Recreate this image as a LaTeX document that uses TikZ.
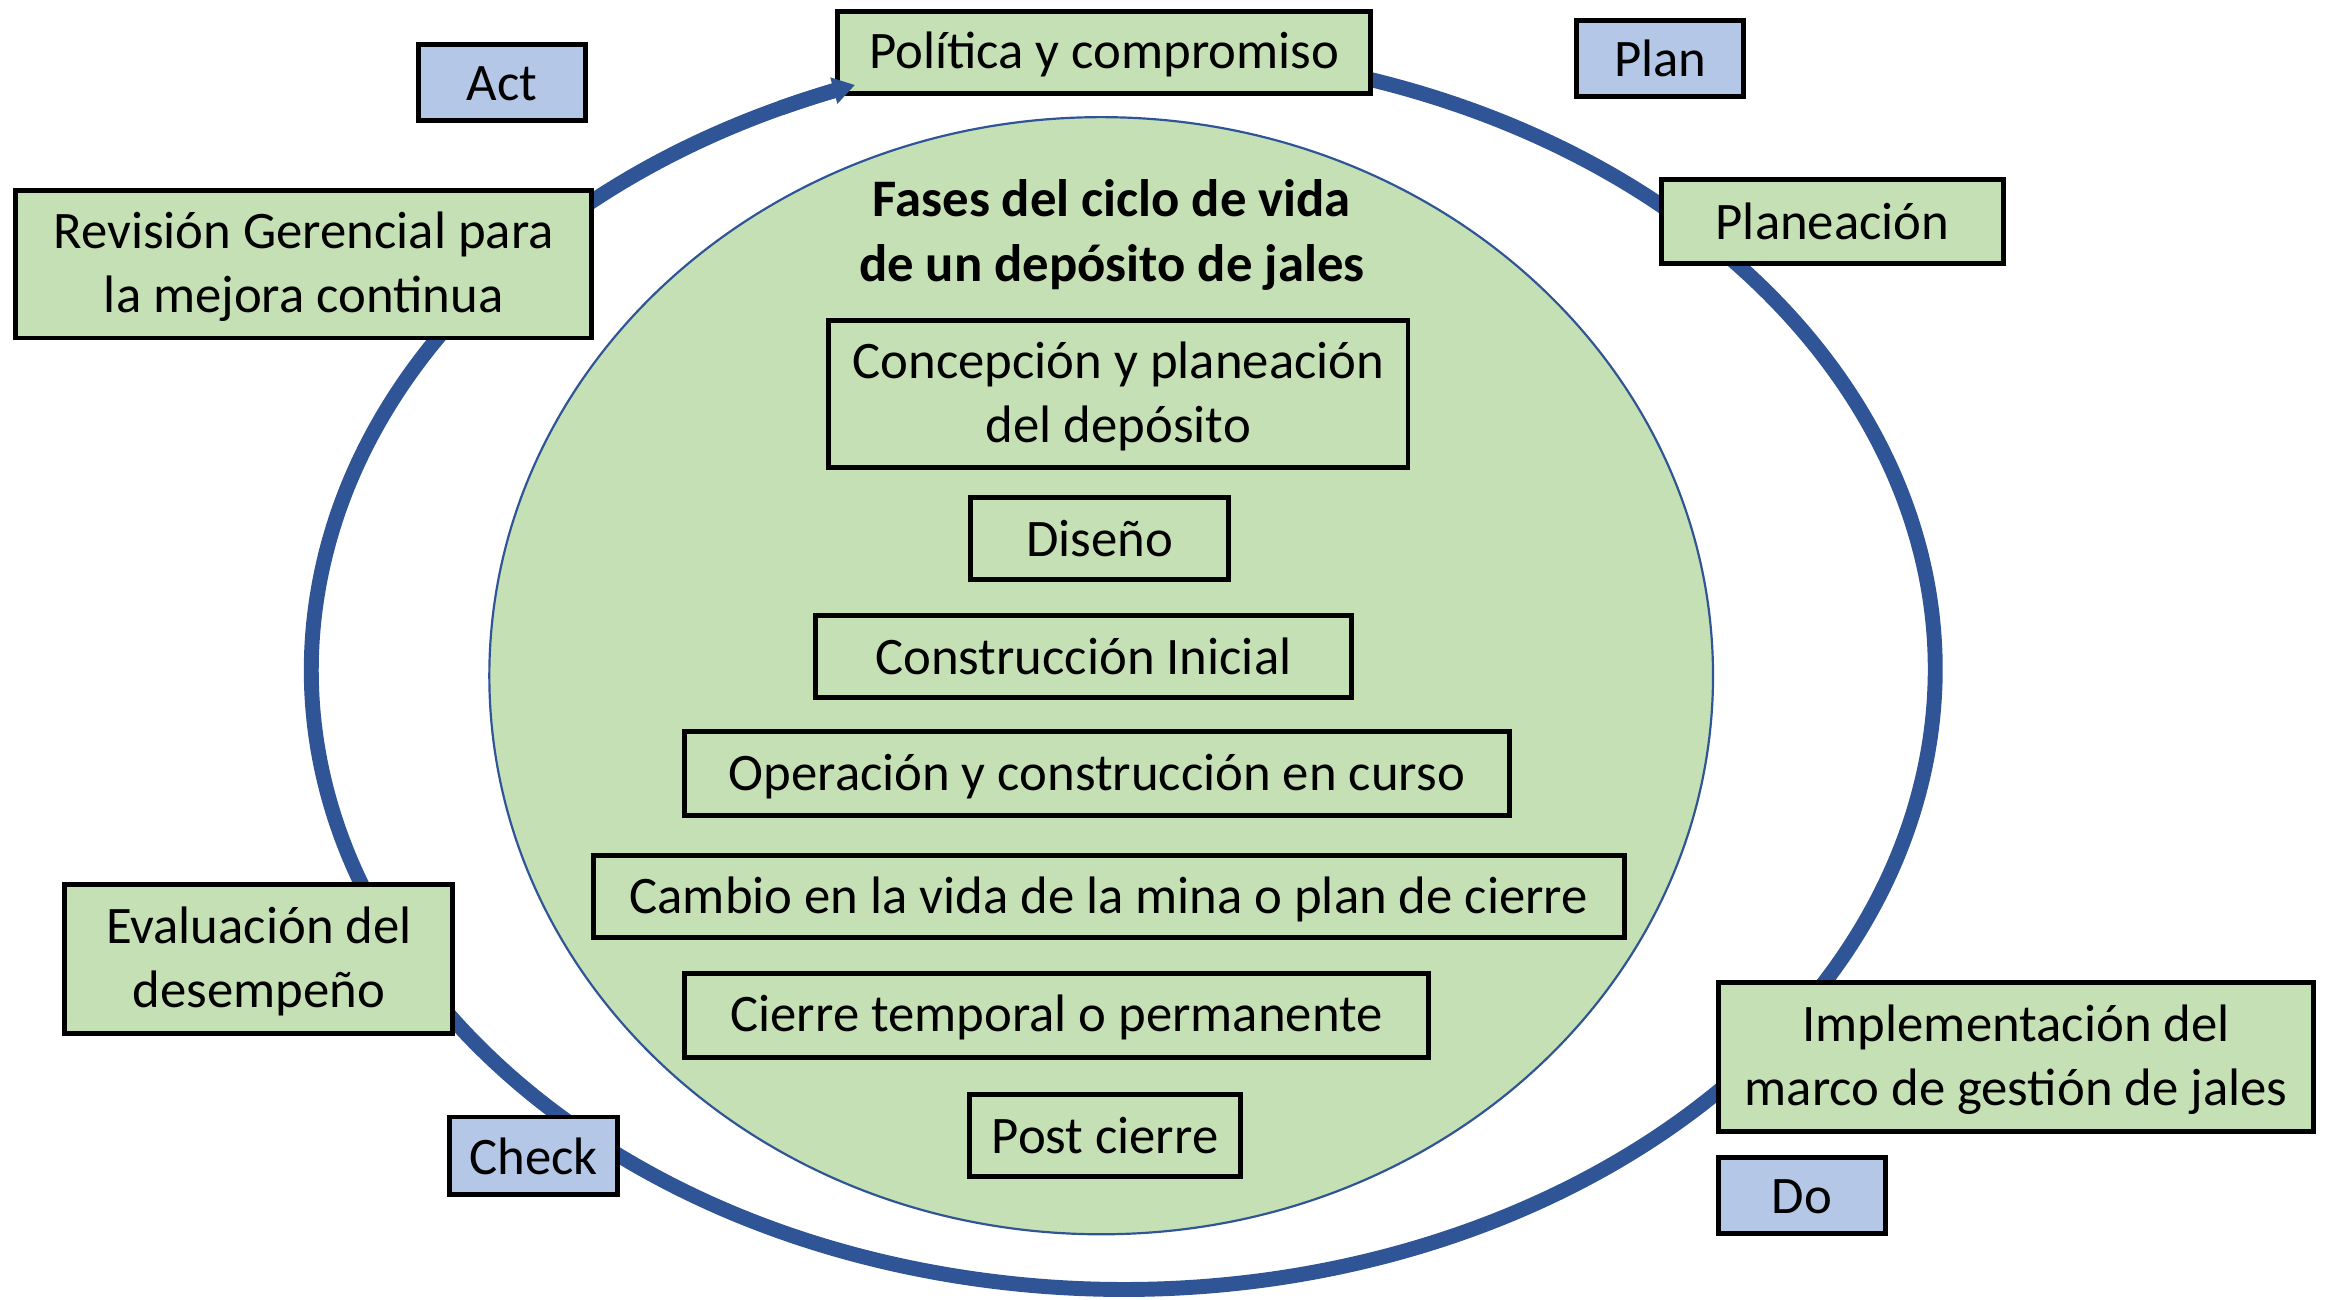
\documentclass[tikz,border=0pt]{standalone}
\usepackage{fontspec}
\setmainfont{Carlito}
\usetikzlibrary{calc,arrows.meta}
\definecolor{boxgreen}{HTML}{C5E0B4}
\definecolor{boxblue}{HTML}{B4C7E7}
\definecolor{ringblue}{HTML}{2F5597}
\newcommand\lnstrut{\rule[-2.5pt]{0pt}{23.3pt}}
\begin{document}
\begin{tikzpicture}[x=0.75pt,y=0.75pt,
  every node/.style={font=\fontsize{26.5pt}{32.25pt}\selectfont, align=center, inner sep=0pt},
  gbox/.style={draw=black, line width=2.5pt, fill=boxgreen},
  bbox/.style={draw=black, line width=2.5pt, fill=boxblue},
  sz/.style 2 args={minimum width=#1*0.75pt, minimum height=#2*0.75pt},
  ring/.style={draw=ringblue, line width=7.5pt},
  ringtip/.style={draw=ringblue, line width=7.5pt, -{Triangle[width=13pt,length=11pt]}},
  phase/.style={draw=ringblue, line width=1.1pt, fill=boxgreen}]
\useasboundingbox (0,0) rectangle (1560,-871.1);
% inner ellipse
\coordinate (inc) at (737.9,-452.8);
\draw[phase] (inc) ellipse[x radius=410, y radius=374.3];
% outer ring
\coordinate (ringc) at (752.7,-448.8);
\coordinate (ringstart) at ($(ringc)+(78:544 and 415.2)$);
\coordinate (ringlast) at ($(ringc)+(-245:544 and 415.2)$);
\draw[ring] (ringstart) arc[start angle=78, end angle=-250.7, x radius=544, y radius=415.2];
% title
\node[font=\fontsize{26.5pt}{32.25pt}\selectfont\bfseries] (title) at (745,-156) {Fases del ciclo de vida\lnstrut\\de un depósito de jales\lnstrut};
% outer boxes
\node[gbox, sz={357}{55}] (pol) at (740,-35) {Política y compromiso\lnstrut};
\node[bbox, sz={112}{51}] (act) at (336.5,-55) {Act\lnstrut};
\node[bbox, sz={112}{51}] (plan) at (1112.5,-39) {Plan\lnstrut};
\node[gbox, sz={229}{56}] (planea) at (1228,-148.5) {Planeación\lnstrut};
\node[gbox, sz={386}{99}] (rev) at (203.5,-177) {Revisión Gerencial para\lnstrut\\la mejora continua\lnstrut};
\node[gbox, sz={260}{100}] (eval) at (173.5,-642.5) {Evaluación del\lnstrut\\desempeño\lnstrut};
\node[bbox, sz={112}{52}] (check) at (357.5,-774.5) {Check\lnstrut};
\node[gbox, sz={399}{100}] (impl) at (1351,-708.5) {Implementación del\lnstrut\\marco de gestión de jales\lnstrut};
\node[bbox, sz={112}{51}] (do) at (1207.5,-801) {Do\lnstrut};
% phases
\node[gbox, sz={388}{99}] (p1) at (749.5,-264) {Concepción y planeación\lnstrut\\del depósito\lnstrut};
\node[gbox, sz={173}{55}] (p2) at (737,-361) {Diseño\lnstrut};
\node[gbox, sz={359}{55}] (p3) at (726,-440) {Construcción Inicial\lnstrut};
\node[gbox, sz={553}{56}] (p4) at (735,-518.5) {Operación y construcción en curso\lnstrut};
\node[gbox, sz={691}{55}] (p5) at (743,-601) {Cambio en la vida de la mina o plan de cierre\lnstrut};
\node[gbox, sz={499}{56}] (p6) at (708,-680.5) {Cierre temporal o permanente\lnstrut};
\node[gbox, sz={182}{55}] (p7) at (740.5,-761) {Post cierre\lnstrut};
% arrow head of the ring, drawn over the policy box
\draw[ringtip] (ringlast) arc[start angle=-245, end angle=-250.7, x radius=544, y radius=415.2];
\end{tikzpicture}
\end{document}
